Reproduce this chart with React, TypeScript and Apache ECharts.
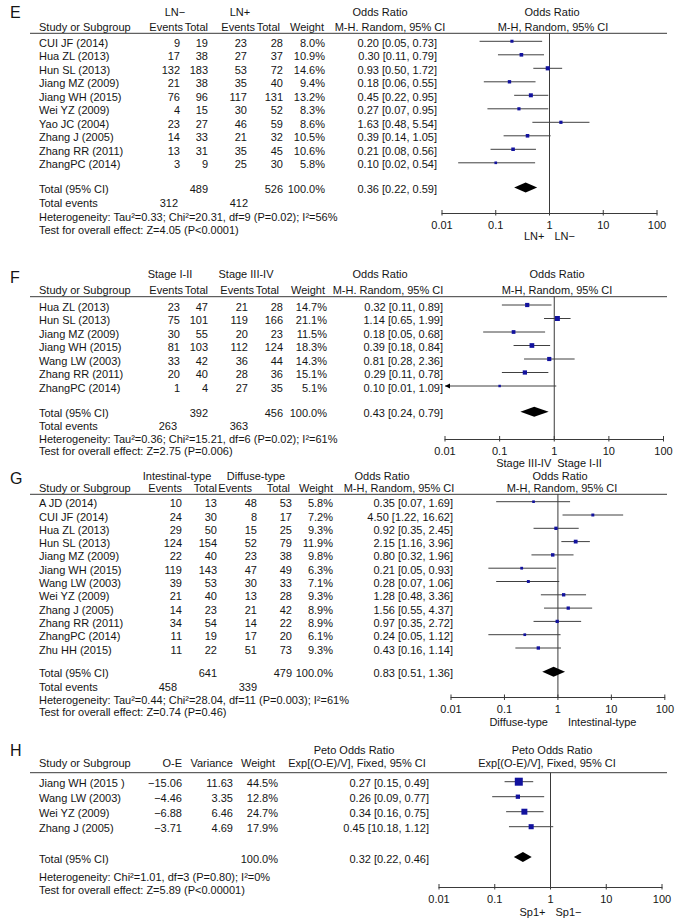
import React, { useEffect, useRef } from "react";
import * as echarts from "echarts";

// ---------------- shared axis ----------------
const tickValues = [0.01, 0.1, 1, 10, 100];
const tickLabels = ["0.01", "0.1", "1", "10", "100"];
const XMIN = 0.01;
const XMAX = 100;

// ---------------- Panel E : LN− vs LN+ ----------------
const studiesE = ["CUI JF (2014)", "Hua ZL (2013)", "Hun SL (2013)", "Jiang MZ (2009)", "Jiang WH (2015)", "Wei YZ (2009)", "Yao JC (2004)", "Zhang J (2005)", "Zhang RR (2011)", "ZhangPC (2014)"];
const eventsE1 = [9, 17, 132, 21, 76, 4, 23, 14, 13, 3];
const totalE1 = [19, 38, 183, 38, 96, 15, 27, 33, 31, 9];
const eventsE2 = [23, 27, 53, 35, 117, 30, 46, 21, 35, 25];
const totalE2 = [28, 37, 72, 40, 131, 52, 59, 32, 45, 30];
const weightE = [8.0, 10.9, 14.6, 9.4, 13.2, 8.3, 8.6, 10.5, 10.6, 5.8];
const orE = [0.2, 0.3, 0.93, 0.18, 0.45, 0.27, 1.63, 0.39, 0.21, 0.1];
const loE = [0.05, 0.11, 0.5, 0.06, 0.22, 0.07, 0.48, 0.14, 0.08, 0.02];
const hiE = [0.73, 0.79, 1.72, 0.55, 0.95, 0.95, 5.54, 1.05, 0.56, 0.54];
const pooledE = [0.36, 0.22, 0.59];
const sumTotalsE = [489, 526];
const sumEventsE = [312, 412];
const hetE = "Heterogeneity: Tau²=0.33; Chi²=20.31, df=9 (P=0.02); I²=56%";
const testE = "Test for overall effect: Z=4.05 (P<0.0001)";

// ---------------- Panel F : Stage I-II vs Stage III-IV ----------------
const studiesF = ["Hua ZL (2013)", "Hun SL (2013)", "Jiang MZ (2009)", "Jiang WH (2015)", "Wang LW (2003)", "Zhang RR (2011)", "ZhangPC (2014)"];
const eventsF1 = [23, 75, 30, 81, 33, 20, 1];
const totalF1 = [47, 101, 55, 103, 42, 40, 4];
const eventsF2 = [21, 119, 20, 112, 36, 28, 27];
const totalF2 = [28, 166, 23, 124, 44, 36, 35];
const weightF = [14.7, 21.1, 11.5, 18.3, 14.3, 15.1, 5.1];
const orF = [0.32, 1.14, 0.18, 0.39, 0.81, 0.29, 0.1];
const loF = [0.11, 0.65, 0.05, 0.18, 0.28, 0.11, 0.01];
const hiF = [0.89, 1.99, 0.68, 0.84, 2.36, 0.78, 1.09];
const pooledF = [0.43, 0.24, 0.79];
const sumTotalsF = [392, 456];
const sumEventsF = [263, 363];
const hetF = "Heterogeneity: Tau²=0.36; Chi²=15.21, df=6 (P=0.02); I²=61%";
const testF = "Test for overall effect: Z=2.75 (P=0.006)";

// ---------------- Panel G : Intestinal-type vs Diffuse-type ----------------
const studiesG = ["A JD (2014)", "CUI JF (2014)", "Hua ZL (2013)", "Hun SL (2013)", "Jiang MZ (2009)", "Jiang WH (2015)", "Wang LW (2003)", "Wei YZ (2009)", "Zhang J (2005)", "Zhang RR (2011)", "ZhangPC (2014)", "Zhu HH (2015)"];
const eventsG1 = [10, 24, 29, 124, 22, 119, 39, 21, 14, 34, 11, 11];
const totalG1 = [13, 30, 50, 154, 40, 143, 53, 40, 23, 54, 19, 22];
const eventsG2 = [48, 8, 15, 52, 23, 47, 30, 13, 21, 14, 17, 51];
const totalG2 = [53, 17, 25, 79, 38, 49, 33, 28, 42, 22, 20, 73];
const weightG = [5.8, 7.2, 9.3, 11.9, 9.8, 6.3, 7.1, 9.3, 8.9, 8.9, 6.1, 9.3];
const orG = [0.35, 4.5, 0.92, 2.15, 0.8, 0.21, 0.28, 1.28, 1.56, 0.97, 0.24, 0.43];
const loG = [0.07, 1.22, 0.35, 1.16, 0.32, 0.05, 0.07, 0.48, 0.55, 0.35, 0.05, 0.16];
const hiG = [1.69, 16.62, 2.45, 3.96, 1.96, 0.93, 1.06, 3.36, 4.37, 2.72, 1.12, 1.14];
const pooledG = [0.83, 0.51, 1.36];
const sumTotalsG = [641, 479];
const sumEventsG = [458, 339];
const hetG = "Heterogeneity: Tau²=0.44; Chi²=28.04, df=11 (P=0.003); I²=61%";
const testG = "Test for overall effect: Z=0.74 (P=0.46)";

// ---------------- Panel H : Sp1 (Peto) ----------------
const studiesH = ["Jiang WH (2015 )", "Wang LW (2003)", "Wei YZ (2009)", "Zhang J (2005)"];
const oeH = [-15.06, -4.46, -6.88, -3.71];
const varianceH = [11.63, 3.35, 6.46, 4.69];
const weightH = [44.5, 12.8, 24.7, 17.9];
const orH = [0.27, 0.26, 0.34, 0.45];
const loH = [0.15, 0.09, 0.16, 0.18];
const hiH = [0.49, 0.77, 0.75, 1.12];
const ciLabelsH = ["0.27 [0.15, 0.49]", "0.26 [0.09, 0.77]", "0.34 [0.16, 0.75]", "0.45 [10.18, 1.12]"];
const pooledH = [0.32, 0.22, 0.46];
const hetH = "Heterogeneity: Chi²=1.01, df=3 (P=0.80); I²=0%";
const testH = "Test for overall effect: Z=5.89 (P<0.00001)";

// ---------------- styling ----------------
const FONT = '"Liberation Sans", Arial, Helvetica, sans-serif';
const INK = "#151515";
const RULE = "#3a3a3a";
const CI_COLOR = "#404040";
const BLUE = "#12129e";
const TEXT_DY = 1.5;

const f2 = (v: number) => v.toFixed(2);
const ciText = (o: number, l: number, h: number) => `${f2(o)} [${f2(l)}, ${f2(h)}]`;
const pct = (w: number) => `${w.toFixed(1)}%`;
const signed = (v: number) => (v < 0 ? "−" : "") + Math.abs(v).toFixed(2);

type Cell = [string, number, string];
type FootCell = [string, number, number, string];

interface Panel {
  letter: string;
  letterY: number;
  lineY: number;
  row0: number;
  rowH: number;
  totalY: number;
  axisY: number;
  xLeft: number;
  xRight: number;
  sq: number;
  h1Y: number;
  h2Y: number;
  h1: Cell[];
  h2: Cell[];
  colX: number[];
  colA: string[];
  rows: string[][];
  totalRow: string[];
  forest: number[][];
  pooled: number[];
  foot: FootCell[];
  xt: [string, string];
  xtY: number;
  xtGap: number;
}

const eventCols = ["left", "right", "right", "right", "right", "right", "right"];

const panels: Panel[] = [
  {
    letter: "E", letterY: 12,
    lineY: 33.3, row0: 41.3, rowH: 13.5, totalY: 187.5, axisY: 213,
    xLeft: 442, xRight: 657, sq: 1.1,
    h1Y: 11.7, h2Y: 26.7,
    h1: [["LN−", 175, "center"], ["LN+", 240, "center"], ["Odds Ratio", 380, "center"], ["Odds Ratio", 552, "center"]],
    h2: [["Study or Subgroup", 39, "left"], ["Events", 183, "right"], ["Total", 208, "right"], ["Events", 255, "right"], ["Total", 280, "right"], ["Weight", 324, "right"], ["M-H. Random, 95% CI", 390, "center"], ["M-H, Random, 95% CI", 553, "center"]],
    colX: [39, 180, 208, 247, 283, 325, 437],
    colA: eventCols,
    rows: studiesE.map((s, i) => [s, String(eventsE1[i]), String(totalE1[i]), String(eventsE2[i]), String(totalE2[i]), pct(weightE[i]), ciText(orE[i], loE[i], hiE[i])]),
    totalRow: ["Total (95% CI)", "", String(sumTotalsE[0]), "", String(sumTotalsE[1]), "100.0%", ciText(pooledE[0], pooledE[1], pooledE[2])],
    forest: orE.map((o, i) => [o, loE[i], hiE[i], weightE[i]]),
    pooled: pooledE,
    foot: [["Total events", 39, 203, "left"], [String(sumEventsE[0]), 178, 203, "right"], [String(sumEventsE[1]), 248, 203, "right"], [hetE, 39, 216.5, "left"], [testE, 39, 229.5, "left"]],
    xt: ["LN+", "LN−"], xtY: 236, xtGap: 5,
  },
  {
    letter: "F", letterY: 277,
    lineY: 296.7, row0: 305, rowH: 13.5, totalY: 411.7, axisY: 439,
    xLeft: 445, xRight: 663.5, sq: 1.1,
    h1Y: 274, h2Y: 290,
    h1: [["Stage I-II", 170, "center"], ["Stage III-IV", 246, "center"], ["Odds Ratio", 380, "center"], ["Odds Ratio", 557, "center"]],
    h2: [["Study or Subgroup", 39, "left"], ["Events", 183, "right"], ["Total", 208, "right"], ["Events", 254, "right"], ["Total", 279, "right"], ["Weight", 325, "right"], ["M-H. Random, 95% CI", 388, "center"], ["M-H, Random, 95% CI", 557, "center"]],
    colX: [39, 180, 208, 248, 283, 327, 443],
    colA: eventCols,
    rows: studiesF.map((s, i) => [s, String(eventsF1[i]), String(totalF1[i]), String(eventsF2[i]), String(totalF2[i]), pct(weightF[i]), ciText(orF[i], loF[i], hiF[i])]),
    totalRow: ["Total (95% CI)", "", String(sumTotalsF[0]), "", String(sumTotalsF[1]), "100.0%", ciText(pooledF[0], pooledF[1], pooledF[2])],
    forest: orF.map((o, i) => [o, loF[i], hiF[i], weightF[i]]),
    pooled: pooledF,
    foot: [["Total events", 39, 426, "left"], [String(sumEventsF[0]), 177, 426, "right"], [String(sumEventsF[1]), 248, 426, "right"], [hetF, 39, 438.5, "left"], [testF, 39, 451, "left"]],
    xt: ["Stage III-IV", "Stage I-II"], xtY: 462.5, xtGap: 3,
  },
  {
    letter: "G", letterY: 478,
    lineY: 494.3, row0: 501.7, rowH: 13.3, totalY: 671.7, axisY: 697.5,
    xLeft: 451, xRight: 665.5, sq: 1.1,
    h1Y: 475.5, h2Y: 487.5,
    h1: [["Intestinal-type", 177, "center"], ["Diffuse-type", 256, "center"], ["Odds Ratio", 382, "center"], ["Odds Ratio", 560, "center"]],
    h2: [["Study or Subgroup", 39, "left"], ["Events", 182, "right"], ["Total", 217, "right"], ["Events", 252, "right"], ["Total", 290, "right"], ["Weight", 333, "right"], ["M-H, Random, 95% CI", 399, "center"], ["M-H, Random, 95% CI", 562, "center"]],
    colX: [39, 182, 217, 257, 292, 333, 453],
    colA: eventCols,
    rows: studiesG.map((s, i) => [s, String(eventsG1[i]), String(totalG1[i]), String(eventsG2[i]), String(totalG2[i]), pct(weightG[i]), ciText(orG[i], loG[i], hiG[i])]),
    totalRow: ["Total (95% CI)", "", String(sumTotalsG[0]), "", String(sumTotalsG[1]), "100.0%", ciText(pooledG[0], pooledG[1], pooledG[2])],
    forest: orG.map((o, i) => [o, loG[i], hiG[i], weightG[i]]),
    pooled: pooledG,
    foot: [["Total events", 39, 686.5, "left"], [String(sumEventsG[0]), 177, 686.5, "right"], [String(sumEventsG[1]), 257, 686.5, "right"], [hetG, 39, 699.5, "left"], [testG, 39, 712, "left"]],
    xt: ["Diffuse-type", "Intestinal-type"], xtY: 722, xtGap: 10,
  },
  {
    letter: "H", letterY: 750,
    lineY: 772.7, row0: 781.7, rowH: 15, totalY: 857, axisY: 887,
    xLeft: 439, xRight: 662, sq: 1.2,
    h1Y: 750, h2Y: 763,
    h1: [["Peto Odds Ratio", 354, "center"], ["Peto Odds Ratio", 552, "center"]],
    h2: [["Study or Subgroup", 39, "left"], ["O-E", 182, "right"], ["Variance", 233, "right"], ["Weight", 275, "right"], ["Exp[(O-E)/V], Fixed, 95% CI", 357, "center"], ["Exp[(O-E)/V], Fixed, 95% CI", 547, "center"]],
    colX: [39, 182, 233, 278, 429],
    colA: ["left", "right", "right", "right", "right"],
    rows: studiesH.map((s, i) => [s, signed(oeH[i]), varianceH[i].toFixed(2), pct(weightH[i]), ciLabelsH[i]]),
    totalRow: ["Total (95% CI)", "", "", "100.0%", ciText(pooledH[0], pooledH[1], pooledH[2])],
    forest: orH.map((o, i) => [o, loH[i], hiH[i], weightH[i]]),
    pooled: pooledH,
    foot: [[hetH, 39, 876.5, "left"], [testH, 39, 889.5, "left"]],
    xt: ["Sp1+", "Sp1−"], xtY: 912, xtGap: 5,
  },
];

function txt(t: string, x: number, y: number, align: string, size = 11): any {
  return {
    type: "text",
    x,
    y,
    silent: true,
    style: {
      text: t,
      fill: INK,
      fontSize: size,
      fontFamily: FONT,
      align,
      textAlign: align,
      verticalAlign: "middle",
      textVerticalAlign: "middle",
    },
  };
}

function yMinOf(p: Panel) {
  return -(p.row0 - p.lineY) / p.rowH;
}
function yMaxOf(p: Panel) {
  return (p.axisY - p.row0) / p.rowH;
}
function totalVOf(p: Panel) {
  return (p.totalY - p.row0) / p.rowH;
}

function buildOption(): any {
  const grid: any[] = [];
  const xAxis: any[] = [];
  const yAxis: any[] = [];
  const series: any[] = [];
  const graphics: any[] = [];

  panels.forEach((p, k) => {
    const yMin = yMinOf(p);
    const yMax = yMaxOf(p);
    const totalV = totalVOf(p);

    grid.push({ left: p.xLeft, top: p.lineY, width: p.xRight - p.xLeft, height: p.axisY - p.lineY, containLabel: false });
    xAxis.push({
      type: "log",
      logBase: 10,
      gridIndex: k,
      position: "bottom",
      min: XMIN,
      max: XMAX,
      splitNumber: 4,
      axisLine: { show: true, onZero: false, lineStyle: { color: RULE, width: 1 } },
      axisTick: { show: false },
      splitLine: { show: false },
      minorTick: { show: false },
      axisLabel: {
        show: true,
        margin: 6,
        fontSize: 11,
        fontFamily: FONT,
        color: INK,
        formatter: (v: number) => tickLabels[Math.round(Math.log10(v)) + 2] ?? "",
      },
    });
    yAxis.push({ type: "value", gridIndex: k, inverse: true, min: yMin, max: yMax, show: false });

    // reference line at OR = 1, axis ticks, axis side titles
    series.push({
      type: "custom",
      xAxisIndex: k,
      yAxisIndex: k,
      clip: false,
      silent: true,
      data: [[1, yMax]],
      encode: { x: 0, y: 1 },
      renderItem: (params: any, api: any) => {
        const top = api.coord([1, yMin]);
        const bot = api.coord([1, yMax]);
        const children: any[] = [
          { type: "line", shape: { x1: top[0], y1: top[1], x2: bot[0], y2: bot[1] }, style: { stroke: RULE, lineWidth: 1 } },
        ];
        tickValues.forEach((v) => {
          const q = api.coord([v, yMax]);
          children.push({ type: "line", shape: { x1: q[0], y1: q[1] - 3, x2: q[0], y2: q[1] + 2.5 }, style: { stroke: RULE, lineWidth: 1 } });
        });
        const ty = bot[1] + (p.xtY - p.axisY);
        children.push(txt(p.xt[0], bot[0] - p.xtGap, ty, "right"));
        children.push(txt(p.xt[1], bot[0] + p.xtGap, ty, "left"));
        return { type: "group", children };
      },
    });

    // study rows: CI line + weighted square
    series.push({
      type: "custom",
      xAxisIndex: k,
      yAxisIndex: k,
      clip: false,
      silent: true,
      data: p.forest.map((f, i) => [f[0], f[1], f[2], f[3], i]),
      encode: { x: 0, y: 4 },
      renderItem: (params: any, api: any) => {
        const o = api.value(0);
        const lo = api.value(1);
        const hi = api.value(2);
        const w = api.value(3);
        const r = api.value(4);
        const a = api.coord([Math.max(lo, XMIN), r]);
        const b = api.coord([Math.min(hi, XMAX), r]);
        const c = api.coord([o, r]);
        const s = p.sq * Math.sqrt(w);
        const children: any[] = [
          { type: "line", shape: { x1: a[0], y1: a[1], x2: b[0], y2: b[1] }, style: { stroke: CI_COLOR, lineWidth: 1 } },
          { type: "rect", shape: { x: c[0] - s / 2, y: c[1] - s / 2, width: s, height: s }, style: { fill: BLUE } },
        ];
        if (lo <= XMIN) {
          children.push({ type: "polygon", shape: { points: [[a[0], a[1]], [a[0] + 5, a[1] - 2.5], [a[0] + 5, a[1] + 2.5]] }, style: { fill: "#000" } });
        }
        return { type: "group", children };
      },
    });

    // pooled diamond
    series.push({
      type: "custom",
      xAxisIndex: k,
      yAxisIndex: k,
      clip: false,
      silent: true,
      data: [[p.pooled[0], p.pooled[1], p.pooled[2], totalV]],
      encode: { x: 0, y: 3 },
      renderItem: (params: any, api: any) => {
        const c = api.coord([api.value(0), api.value(3)]);
        const a = api.coord([api.value(1), api.value(3)]);
        const b = api.coord([api.value(2), api.value(3)]);
        return {
          type: "polygon",
          shape: { points: [[a[0], a[1]], [c[0], c[1] - 5], [b[0], b[1]], [c[0], c[1] + 5]] },
          style: { fill: "#000" },
        };
      },
    });

    // table text rows (study rows + total row), positioned on the panel's row scale
    series.push({
      type: "custom",
      xAxisIndex: k,
      yAxisIndex: k,
      clip: false,
      silent: true,
      data: [...p.rows.map((_, i) => [1, i]), [1, totalV]],
      encode: { x: 0, y: 1 },
      renderItem: (params: any, api: any) => {
        const idx = params.dataIndex;
        const cells = idx < p.rows.length ? p.rows[idx] : p.totalRow;
        const y = api.coord([1, api.value(1)])[1] + TEXT_DY;
        const children: any[] = [];
        cells.forEach((t, j) => {
          if (t) children.push(txt(t, p.colX[j], y, p.colA[j]));
        });
        return { type: "group", children };
      },
    });

    // headers, rule, footers, panel letter
    graphics.push(txt(p.letter, 10, p.letterY, "left", 16));
    p.h1.forEach(([t, x, a]) => graphics.push(txt(t, x, p.h1Y, a)));
    p.h2.forEach(([t, x, a]) => graphics.push(txt(t, x, p.h2Y, a)));
    graphics.push({ type: "line", silent: true, shape: { x1: 30, y1: p.lineY, x2: 667, y2: p.lineY }, style: { stroke: RULE, lineWidth: 1 } });
    p.foot.forEach(([t, x, y, a]) => graphics.push(txt(t, x, y, a)));
  });

  return {
    animation: false,
    backgroundColor: "#ffffff",
    grid,
    xAxis,
    yAxis,
    series,
    graphic: { elements: graphics },
  };
}

export default function App() {
  const ref = useRef<HTMLDivElement>(null);
  useEffect(() => {
    if (!ref.current) return;
    const chart = echarts.init(ref.current, undefined, { renderer: "svg" });
    chart.setOption(buildOption());
    return () => chart.dispose();
  }, []);
  return (
    <div
      ref={ref}
      style={{ position: "absolute", left: 0, top: 0, width: 677, height: 924, background: "#fff" }}
    />
  );
}
